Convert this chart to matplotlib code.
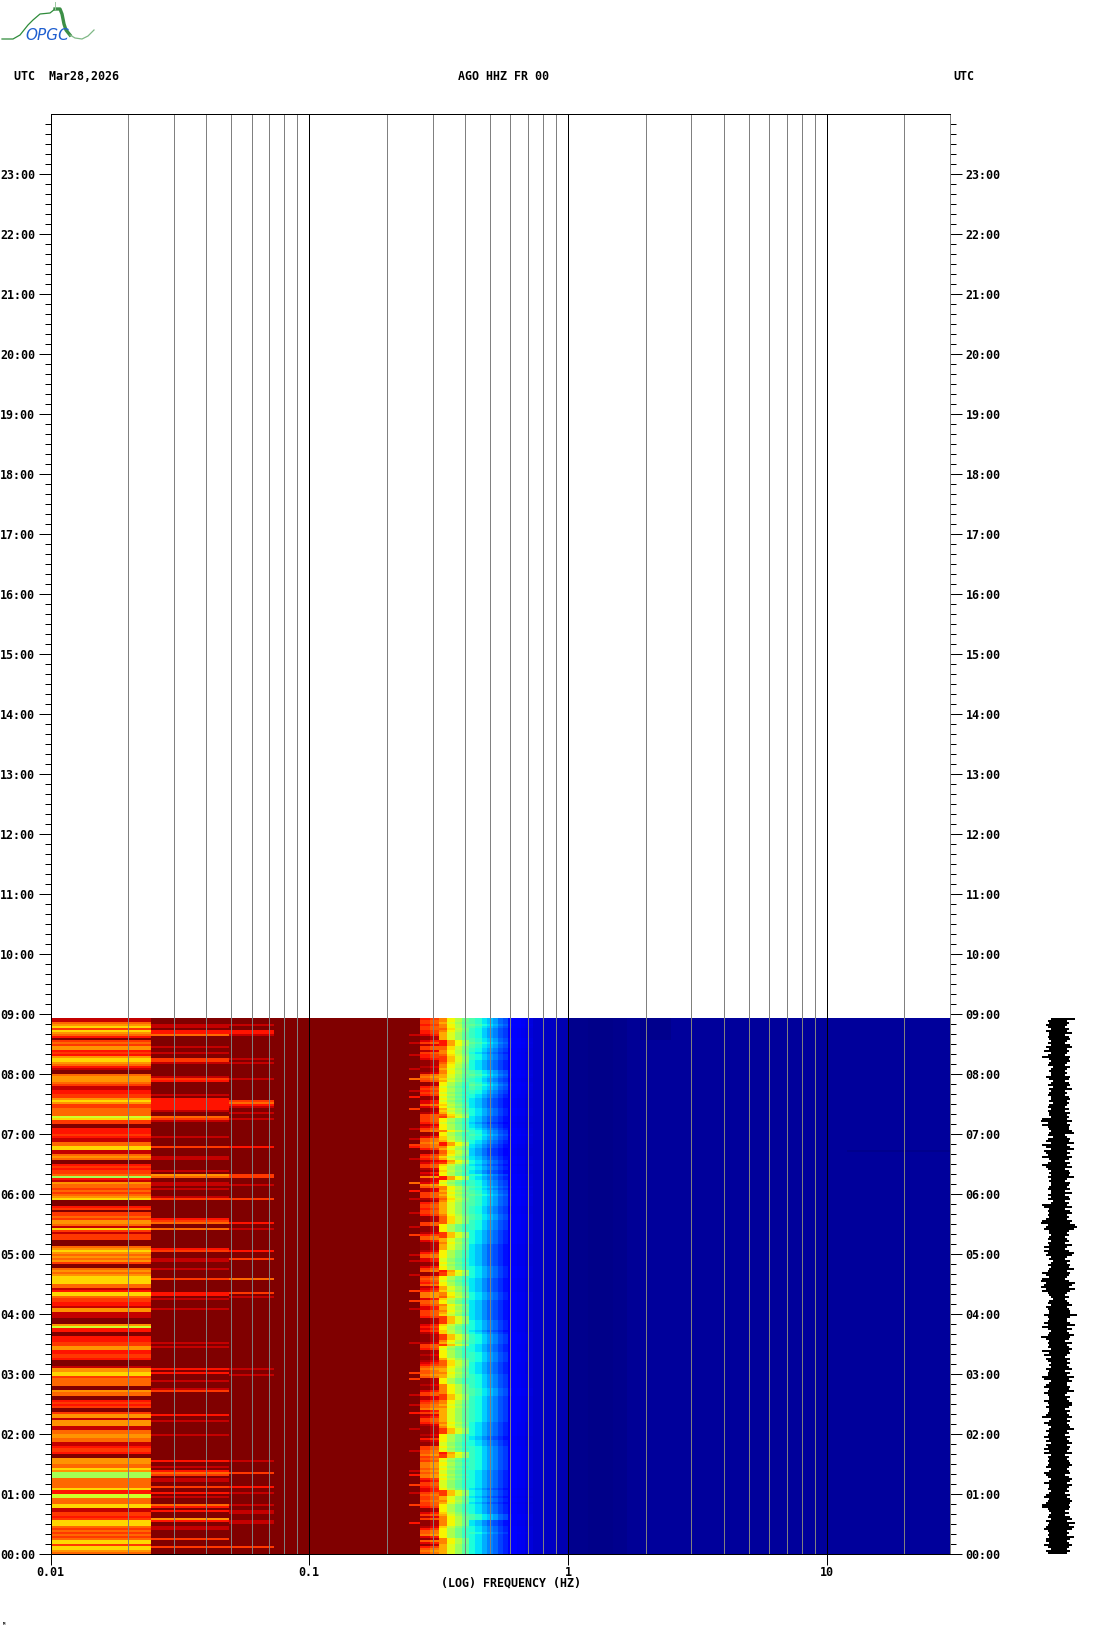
import numpy as np
import matplotlib
matplotlib.use('Agg')
import matplotlib.pyplot as plt
import matplotlib.ticker

# Spectrogram rows run from top (08:56) down to 00:00, one row every 2 minutes.
ROW_HOURS = 2 / 60
N_ROWS = 268

# Lowest frequency band, colour level per row
band1_levels = (
    "1145636542" "0343552325" "6654210045" "5543112233" "5653344447"
    "6330022232" "1144661145" "4002323348" "2154434345" "6000230334"
    "3554163133" "3000456545" "4530045456" "6664412664" "3"
    "3221551110" "0057220022" "2335522332" "0001556634" "4440054400"
    "2323003551" "5551144554" "4112332005" "5544658884" "4444622774"
    "4466113323" "6664343434" "6636654"
)

# Next two bands are dark except for these rows
band2_rows = [3, 4, 6, 7, 8, 14, 17, 20, 21, 22, 29, 30, 31, 38, 40, 41, 42, 43, 44, 45, 46, 49, 50, 51,
              59, 64, 69, 70, 76, 78, 79, 82, 83, 85, 89, 90, 100, 101, 102, 105, 115, 116, 120, 121,
              125, 130, 137, 138, 140, 145, 162, 164, 175, 177, 181, 185, 186, 198, 201, 208, 221,
              224, 226, 227, 228, 230, 231, 234, 237, 239, 243, 244, 246, 250, 251, 254, 255, 260, 264]
band2_levels = [1, 1, 2, 2, 4, 1, 1, 3, 3, 1, 1, 3, 2, 1, 2, 2, 2, 2, 2, 2, 1, 4, 3, 1,
                1, 3, 1, 1, 1, 5, 4, 1, 1, 1, 1, 3, 2, 3, 4, 4, 2, 3, 1, 1,
                1, 3, 2, 2, 1, 1, 1, 1, 2, 2, 1, 1, 3, 2, 1, 1, 2,
                1, 2, 4, 3, 1, 1, 3, 2, 1, 4, 2, 2, 5, 2, 1, 1, 3, 3]
band3_rows = [3, 6, 7, 8, 20, 22, 30, 41, 42, 43, 44, 47, 50, 64, 78, 79, 83, 90, 102, 105, 116, 120, 130,
              137, 139, 175, 178, 221, 227, 234, 237, 243, 246, 247, 251, 252, 264]
band3_levels = [1, 2, 2, 1, 1, 1, 1, 3, 4, 2, 1, 1, 1, 2, 3, 3, 1, 3, 2, 1, 2, 3, 4,
                3, 1, 1, 1, 1, 3, 2, 1, 1, 1, 1, 1, 1, 3]
band4_rows = [8, 12, 18, 25, 30, 36, 39, 45, 55, 60, 63, 64, 70, 82, 86, 90, 97, 104, 108, 118, 121, 128, 136,
              141, 145, 162, 177, 180, 188, 193, 197, 205, 216, 226, 228, 233, 237, 243, 252]
band4_levels = [1, 1, 1, 1, 4, 1, 2, 3, 1, 1, 3, 2, 1, 4, 2, 1, 1, 1, 3, 1, 1, 1, 3,
                3, 1, 1, 3, 3, 1, 1, 2, 1, 1, 1, 2, 3, 1, 3, 2]
level_values = [1.0, 0.94, 0.89, 0.85, 0.80, 0.75, 0.68, 0.6, 0.55]

# Row strength read from the columns near 0.28 Hz, 0.33 Hz and 0.5 Hz
warm_rows = (
    "5665665542" "2463663655" "4222322378" "7622565652" "2447422366"
    "6653467224" "7787752256" "5346632438" "3348733666" "3256656652"
    "2266222357" "7422223577" "4422467226" "7657345888" "4"
    "7764466652" "2245453222" "2366522322" "3457877872" "2232246633"
    "5677846346" "6532222325" "3226677867" "6888787885" "4665446766"
    "7665224636" "2223577842" "7425787"
)
mid_rows = (
    "4454434555" "5111334432" "2234454455" "6577877878" "7876756532"
    "7787774776" "6511453346" "5126776771" "1787445454"
    "3455555543" "3337777222" "5545557777" "8878771227" "7877556443"
    "6774554562" "2226776622" "2452787777" "5333455455"
    "7774444422" "2445455555" "5545422277" "7788787122" "7877878878"
    "7888872225" "5457777654" "4444677777" "44455555"
)
cool_rows = (
    "6667655555" "6676655455" "5444446676" "5567665544" "3333344443"
    "3323345565" "5443322223" "3443443354" "4555656676"
    "6666555566" "6555554444" "4443333333" "3333444444" "3333333444"
    "4333333333" "3444443455" "5554444555" "5544444455"
    "5555566665" "5555555555" "5544444443" "3444555555" "5555554444"
    "4444434443" "4434444466" "6333444544" "44444444"
)

# Frequency bins: band columns, then the colour ramp, then the blue side
band_bins = [0.01, 0.0244, 0.0488, 0.0732, 0.0976, 0.2440, 0.2684]
warm_bins = [0.2928, 0.3172, 0.3416, 0.3660, 0.3904]
cool_bins = [0.4148, 0.4392, 0.4636, 0.4880, 0.5124, 0.5368, 0.5612, 0.5856, 0.6100, 0.6344, 0.6588, 0.6832, 0.7076, 0.7320]
high_bins = [0.8, 0.9, 1.0, 1.2, 1.5, 1.7, 1.9, 2.2, 2.5, 12.0, 30.0]

warm_base = [0.90, 0.86, 0.75, 0.63, 0.55, 0.47]
warm_gain = [0.033, 0.033, 0.04, 0.03, 0.025, 0.02]
warm_source = ['warm', 'warm', 'mid', 'mid', 'mid', 'mid']
cool_base = [0.40, 0.36, 0.31, 0.27, 0.24, 0.20, 0.17, 0.125, 0.115, 0.105, 0.10, 0.09, 0.08]
cool_gain = [0.03, 0.03, 0.03, 0.03, 0.025, 0.02, 0.02, 0.006, 0.004, 0.004, 0.003, 0.003, 0.003]
high_values = [0.07, 0.06, 0.045, 0.015, 0.008, 0.012, 0.02, 0.024, 0.026, 0.027, 0.027]

# darker patches on the blue side
navy_rows = [0, 1, 2, 3, 4, 5, 6, 7, 8, 9, 10]
quiet_row = 66

# Small trace on the right, half width level per row (base 36 digits)
trace_left = (
    "3546536445" "4353647358" "4345234336" "4235243453" "3424535443"
    "8958543452" "5638637658" "4358653435" "3433453353" "5238745454"
    "6895674434" "5354747563" "4235345864" "8967968543" "2"
    "4536544754" "5758534596" "4545384736" "5343645587" "3467457544"
    "7546445683" "4753464574" "6365747354" "5456347653" "4744534674"
    "5688543453" "6456754546" "6475365"
)
trace_right = (
    "9454354735" "6436745436" "5643643436" "5356473435" "6454353645"
    "4746557834" "6584684647" "5364735658" "4365463735" "6354736745"
    "4769a85453" "4537435874" "3646584654" "3597596435" "3"
    "4574566a64" "4694745865" "3745756436" "4645736485" "7446584364"
    "5775364574" "6456845364" "5746547354" "5675456357" "6475453646"
    "7656535367" "4958745486" "4575464"
)

hour_labels = ["%02d:00" % h for h in range(24)]
freq_ticks = [0.01, 0.1, 1, 10]
freq_tick_labels = ["0.01", "0.1", "1", "10"]
grey_freqs = [0.02, 0.03, 0.04, 0.05, 0.06, 0.07, 0.08, 0.09,
              0.2, 0.3, 0.4, 0.5, 0.6, 0.7, 0.8, 0.9,
              2, 3, 4, 5, 6, 7, 8, 9, 20]
logo_x = [2, 13, 20, 28, 33, 40, 50, 55]
logo_y = [39, 39, 35, 25, 20, 14, 13, 9]
logo_thick_x = [55, 60, 62, 64, 66, 70]
logo_thick_y = [9, 9, 14, 24, 30, 35]
logo_tail_x = [70, 75, 82, 88, 94]
logo_tail_y = [35, 38, 39, 36, 30]

for s in (band1_levels, warm_rows, mid_rows, cool_rows, trace_left, trace_right):
    assert len(s) == N_ROWS, len(s)

W, H = 1102, 1634
plt.rcParams['font.family'] = ['DejaVu Sans Mono']
plt.rcParams['font.weight'] = 'bold'
plt.rcParams['font.size'] = 8.4

fig = plt.figure(figsize=(W / 100, H / 100), dpi=100, facecolor='white')
ax = fig.add_axes([50.5 / W, (H - 1554) / H, (950 - 50.5) / W, 1440 / H])

# build the spectrogram
edges = np.array(band_bins + warm_bins + cool_bins + high_bins)
Z = np.ones((N_ROWS, len(edges) - 1))
Z[:, 0] = [level_values[int(c)] for c in band1_levels]
for r, l in zip(band2_rows, band2_levels):
    Z[r, 1] = level_values[l]
for r, l in zip(band3_rows, band3_levels):
    Z[r, 2] = level_values[l]
for r, l in zip(band4_rows, band4_levels):
    Z[r, 5] = level_values[l]

sources = {'warm': np.array([int(c) for c in warm_rows]) - 4.5,
           'mid': np.array([int(c) for c in mid_rows]) - 4.5}
cool = np.array([int(c) for c in cool_rows]) - 4.5
col = 6
for b, g, name in zip(warm_base, warm_gain, warm_source):
    Z[:, col] = b - g * sources[name]
    col += 1
for b, g in zip(cool_base, cool_gain):
    Z[:, col] = b + g * cool
    col += 1
first_high = col
for v in high_values:
    Z[:, col] = v
    col += 1
assert col == Z.shape[1]
Z[navy_rows, first_high + 7] = 0.012
Z[navy_rows, first_high + 8] = 0.012
Z[quiet_row, first_high + 10] = 0.012
Z = np.clip(Z, 0, 1)

row_edges = ROW_HOURS * np.arange(N_ROWS, -1, -1)
ax.pcolormesh(edges, row_edges, Z, cmap='jet', vmin=0, vmax=1, antialiased=False, linewidth=0)

ax.set_xscale('log')
ax.set_xlim(0.01, 30)
ax.set_ylim(0, 24)

for f in grey_freqs:
    ax.axvline(f, color='#808080', lw=0.72, antialiased=False)
for f in freq_ticks[1:]:
    ax.axvline(f, color='black', lw=0.72, antialiased=False)

ax.set_xticks(freq_ticks)
ax.set_xticklabels(freq_tick_labels)
ax.xaxis.set_minor_locator(matplotlib.ticker.NullLocator())
ax.set_yticks(range(24))
ax.set_yticklabels(hour_labels)
ax.set_yticks([h + m / 6 for h in range(24) for m in range(1, 6)], minor=True)
ax.tick_params(axis='y', which='major', left=True, right=True, labelleft=True, labelright=True,
               length=8.6, width=0.72, pad=2.5)
ax.tick_params(axis='y', which='minor', left=True, right=True, length=4.3, width=0.72)
ax.tick_params(axis='x', which='major', length=7.9, width=0.72, pad=0.5)
for spine in ax.spines.values():
    spine.set_linewidth(0.72)
ax.spines['right'].set_color('#808080')

# header and axis text
fig.text(14 / W, 1 - 77 / H, "UTC  Mar28,2026", va='center', ha='left')
fig.text(503 / W, 1 - 77 / H, "AGO HHZ FR 00", va='center', ha='center')
fig.text(953 / W, 1 - 77 / H, "UTC", va='center', ha='left')
fig.text(511 / W, 1 - 1583 / H, "(LOG) FREQUENCY (HZ)", va='center', ha='center')
fig.text(4 / W, 1 - 1624 / H, "M", va='center', ha='center', fontsize=3)

# trace beside the spectrogram
tr = fig.add_axes([1020 / W, (H - 1554) / H, 76 / W, 1440 / H])
tr.set_xlim(-38, 38)
tr.set_ylim(0, 24)
tr.axis('off')
row_mid = row_edges[:-1] - ROW_HOURS / 2
left = np.array([int(c, 36) for c in trace_left]) * 1.7 + 2
right = np.array([int(c, 36) for c in trace_right]) * 1.7 + 2
tr.hlines(row_mid, -left, right, color='black', lw=1.44, antialiased=False)

# logo
lg = fig.add_axes([0, 0, 1, 1])
lg.set_xlim(0, W)
lg.set_ylim(H, 0)
lg.axis('off')
lg.patch.set_alpha(0)
lg.plot(logo_x, logo_y, color='#2e8b3a', lw=0.9)
lg.plot(logo_thick_x, logo_thick_y, color='#3c8f46', lw=2.4)
lg.plot(logo_tail_x, logo_tail_y, color='#7fb886', lw=0.9)
lg.plot([55, 55], [2, 9], color='#9cc7a0', lw=0.7)
lg.text(47, 35, "OPGC", color='#1f5fd0', style='italic', weight='normal', family='DejaVu Sans',
        fontsize=11, ha='center', va='center')

fig.savefig('out.png', dpi=100)
